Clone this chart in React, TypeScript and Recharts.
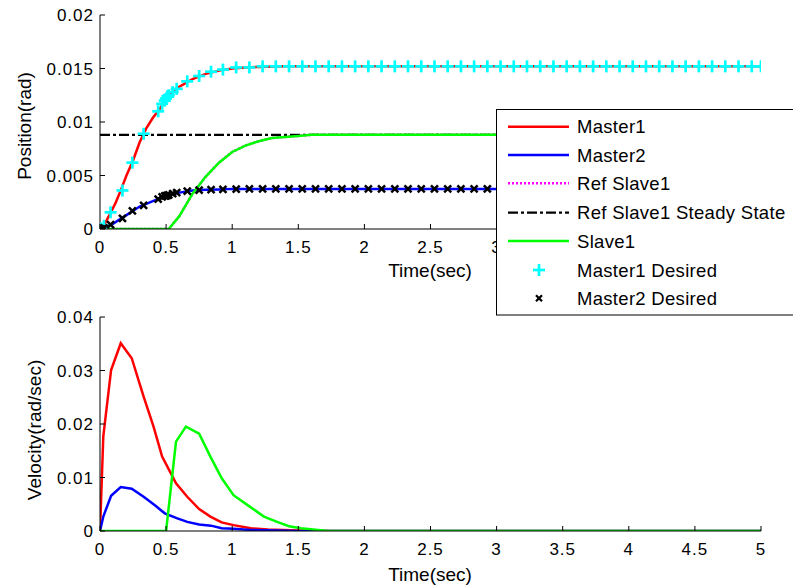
import React from 'react';
import { ComposedChart, Line, XAxis, YAxis } from 'recharts';

const FONT = '"Liberation Sans", Arial, Helvetica, sans-serif';

// ---------- ticks ----------
const timeTicks = [0, 0.5, 1, 1.5, 2, 2.5, 3, 3.5, 4, 4.5, 5];
const timeTickLabels = ['0', '0.5', '1', '1.5', '2', '2.5', '3', '3.5', '4', '4.5', '5'];
const posTicks = [0, 0.005, 0.01, 0.015, 0.02];
const posTickLabels = ['0', '0.005', '0.01', '0.015', '0.02'];
const velTicks = [0, 0.01, 0.02, 0.03, 0.04];
const velTickLabels = ['0', '0.01', '0.02', '0.03', '0.04'];

// ---------- position (top plot) ----------
const master1PosTime = [0, 0.02, 0.05, 0.08, 0.12, 0.16, 0.2, 0.25, 0.3, 0.35, 0.4, 0.45, 0.5, 0.55, 0.6, 0.7, 0.8, 0.9, 1.0, 1.1, 1.2, 1.4, 5];
const master1PosValue = [0, 0.0002, 0.0008, 0.0015, 0.0025, 0.0037, 0.005, 0.0064, 0.0081, 0.0094, 0.0104, 0.0112, 0.0121, 0.0128, 0.0133, 0.014, 0.0145, 0.0148, 0.015, 0.0151, 0.01515, 0.0152, 0.0152];

const master2PosTime = [0, 0.05, 0.1, 0.2, 0.3, 0.4, 0.5, 0.6, 0.7, 0.8, 0.9, 1.0, 5];
const master2PosValue = [0, 0.0002, 0.0005, 0.0013, 0.0021, 0.0026, 0.0031, 0.0034, 0.0036, 0.00367, 0.0037, 0.00375, 0.00375];

const slave1PosTime = [0, 0.52, 0.6, 0.7, 0.8, 0.9, 1.0, 1.1, 1.2, 1.3, 1.4, 1.5, 1.6, 5];
const slave1PosValue = [0, 0, 0.0012, 0.0033, 0.0049, 0.0062, 0.0072, 0.0078, 0.0082, 0.0085, 0.0086, 0.0087, 0.0088, 0.0088];

const refSlave1Time = [0, 0.52, 0.6, 0.7, 0.8, 0.9, 1.0, 1.1, 1.2, 1.3, 1.4, 1.5, 1.6, 5];
const refSlave1Value = [0, 0, 0.0012, 0.0033, 0.0049, 0.0062, 0.0072, 0.0078, 0.0082, 0.0085, 0.0086, 0.0087, 0.0088, 0.0088];

const steadyTime = [0, 5];
const steadyValue = [0.0088, 0.0088];

const desiredTime = [0, 0.01, 0.03, 0.08, 0.17, 0.245, 0.33, 0.44, 0.47, 0.49, 0.5, 0.51, 0.52, 0.55, 0.58, 0.66, 0.75, 0.84, 0.93, 1.03,
  1.13, 1.23, 1.33, 1.43, 1.53, 1.63, 1.73, 1.83, 1.93, 2.03, 2.13, 2.23, 2.33, 2.43, 2.53, 2.63, 2.73, 2.83, 2.93, 3.03,
  3.13, 3.23, 3.33, 3.43, 3.53, 3.63, 3.73, 3.83, 3.93, 4.03, 4.13, 4.23, 4.33, 4.43, 4.53, 4.63, 4.73, 4.83, 4.93, 5.0];
const master1DesiredValue = [0, 0.00005, 0.0003, 0.00156, 0.0036, 0.0062, 0.0089, 0.011, 0.0117, 0.012, 0.0122, 0.0124, 0.0125, 0.0128, 0.0131, 0.0138, 0.0143, 0.0147, 0.0149, 0.0151,
  0.0151, 0.0152, 0.0152, 0.0152, 0.0152, 0.0152, 0.0152, 0.0152, 0.0152, 0.0152, 0.0152, 0.0152, 0.0152, 0.0152, 0.0152, 0.0152, 0.0152, 0.0152, 0.0152, 0.0152,
  0.0152, 0.0152, 0.0152, 0.0152, 0.0152, 0.0152, 0.0152, 0.0152, 0.0152, 0.0152, 0.0152, 0.0152, 0.0152, 0.0152, 0.0152, 0.0152, 0.0152, 0.0152, 0.0152, 0.0152];
const master2DesiredValue = [0, 0.00002, 0.0001, 0.0004, 0.001, 0.0017, 0.0022, 0.0028, 0.003, 0.0031, 0.0031, 0.00315, 0.0032, 0.0033, 0.0034, 0.00355, 0.00363, 0.00368, 0.0037, 0.00373,
  0.00375, 0.00375, 0.00375, 0.00375, 0.00375, 0.00375, 0.00375, 0.00375, 0.00375, 0.00375, 0.00375, 0.00375, 0.00375, 0.00375, 0.00375, 0.00375, 0.00375, 0.00375, 0.00375, 0.00375,
  0.00375, 0.00375, 0.00375, 0.00375, 0.00375, 0.00375, 0.00375, 0.00375, 0.00375, 0.00375, 0.00375, 0.00375, 0.00375, 0.00375, 0.00375, 0.00375, 0.00375, 0.00375, 0.00375, 0.00375];

// ---------- velocity (bottom plot) ----------
const master1VelTime = [0, 0.025, 0.084, 0.157, 0.24, 0.33, 0.405, 0.47, 0.575, 0.66, 0.75, 0.835, 0.92, 1.01, 1.14, 1.27, 1.5, 1.75, 5];
const master1VelValue = [0, 0.0177, 0.0301, 0.0351, 0.0323, 0.0251, 0.0195, 0.0139, 0.0089, 0.0064, 0.0041, 0.0027, 0.0016, 0.0011, 0.0005, 0.0003, 0.0001, 0, 0];

const master2VelTime = [0, 0.025, 0.084, 0.157, 0.24, 0.33, 0.42, 0.49, 0.58, 0.66, 0.75, 0.84, 0.92, 1.01, 1.14, 1.5, 5];
const master2VelValue = [0, 0.0027, 0.0066, 0.0082, 0.0079, 0.0064, 0.0047, 0.0033, 0.0024, 0.0017, 0.0012, 0.001, 0.0005, 0.0004, 0.0002, 0, 0];

const slave1VelTime = [0, 0.5, 0.575, 0.65, 0.75, 0.835, 0.92, 1.01, 1.13, 1.24, 1.34, 1.43, 1.52, 1.65, 1.73, 5];
const slave1VelValue = [0, 0, 0.0167, 0.0195, 0.0182, 0.0139, 0.0099, 0.0067, 0.0046, 0.0027, 0.0017, 0.0009, 0.0005, 0.0002, 0, 0];

// ---------- legend ----------
const legendLabels = ['Master1', 'Master2', 'Ref Slave1', 'Ref Slave1 Steady State', 'Slave1', 'Master1 Desired', 'Master2 Desired'];
const legendRowY = [126.7, 155, 183.3, 212.7, 241, 270, 298.3];

const zip = (t: number[], v: number[]) => t.map((x, i) => ({ t: x, v: v[i] }));

const tickText = { fontFamily: FONT, fontSize: 17, letterSpacing: 1, fill: '#000' } as const;
const LW = 2.5;

const labelOf = (ticks: number[], labels: string[], v: number) => {
  const i = ticks.findIndex((x) => Math.abs(x - v) < 1e-9);
  return i >= 0 ? labels[i] : String(v);
};

// bottom axis tick; labels beyond maxLabel are hidden (covered by the legend in the original)
const makeBottomTick = (maxLabel: number) => (props: any) => {
  const { x, y, payload } = props;
  return (
    <g>
      <line x1={x} x2={x} y1={y} y2={y - 5} stroke="#000" strokeWidth={1} />
      {payload.value <= maxLabel + 1e-9 ? (
        <text x={x} y={y + 24} textAnchor="middle" {...tickText}>{labelOf(timeTicks, timeTickLabels, payload.value)}</text>
      ) : null}
    </g>
  );
};
const TopTick = (props: any) => {
  const { x, y } = props;
  return <line x1={x} x2={x} y1={y} y2={y + 5} stroke="#000" strokeWidth={1} />;
};
const makeLeftTick = (ticks: number[], labels: string[]) => (props: any) => {
  const { x, y, payload } = props;
  return (
    <g>
      <line x1={x} x2={x + 5} y1={y} y2={y} stroke="#000" strokeWidth={1} />
      <text x={x - 6} y={y + 6} textAnchor="end" {...tickText}>{labelOf(ticks, labels, payload.value)}</text>
    </g>
  );
};
const RightTick = (props: any) => {
  const { x, y } = props;
  return <line x1={x} x2={x - 5} y1={y} y2={y} stroke="#000" strokeWidth={1} />;
};

const PlusDot = (props: any) => {
  const { cx, cy, index } = props;
  if (cx == null || cy == null) return <g key={index} />;
  return (
    <g key={index}>
      <line x1={cx - 6} x2={cx + 6} y1={cy} y2={cy} stroke="#00ffff" strokeWidth={2.7} />
      <line x1={cx} x2={cx} y1={cy - 6} y2={cy + 6} stroke="#00ffff" strokeWidth={2.7} />
    </g>
  );
};
const XDot = (props: any) => {
  const { cx, cy, index } = props;
  if (cx == null || cy == null) return <g key={index} />;
  return (
    <g key={index}>
      <line x1={cx - 3.5} x2={cx + 3.5} y1={cy - 3.5} y2={cy + 3.5} stroke="#000" strokeWidth={2.5} />
      <line x1={cx - 3.5} x2={cx + 3.5} y1={cy + 3.5} y2={cy - 3.5} stroke="#000" strokeWidth={2.5} />
    </g>
  );
};

const PosLeftTick = makeLeftTick(posTicks, posTickLabels);
const VelLeftTick = makeLeftTick(velTicks, velTickLabels);
const TopPlotBottomTick = makeBottomTick(3);
const BottomPlotBottomTick = makeBottomTick(5);

const axisLine = { stroke: '#000', strokeWidth: 1 };

export default function App() {
  return (
    <div style={{ position: 'absolute', left: 0, top: 0, width: 793, height: 588, background: '#fff', overflow: 'hidden' }}>
      <div style={{ position: 'absolute', left: 0, top: 0 }}>
        <ComposedChart width={793} height={300} margin={{ top: 15, right: 32, bottom: 31, left: 40 }}>
          <XAxis xAxisId="b" dataKey="t" type="number" domain={[0, 5]} ticks={timeTicks} interval={0} allowDataOverflow
            orientation="bottom" height={40} tickSize={0} tickMargin={0} tick={TopPlotBottomTick} axisLine={axisLine} />
          <XAxis xAxisId="t" dataKey="t" type="number" domain={[0, 5]} ticks={timeTicks} interval={0} allowDataOverflow
            orientation="top" height={0} tickSize={0} tickMargin={0} tick={TopTick} axisLine={axisLine} />
          <YAxis yAxisId="l" type="number" domain={[0, 0.02]} ticks={posTicks} interval={0} allowDataOverflow
            width={60} tickSize={0} tickMargin={0} tick={PosLeftTick} axisLine={axisLine} />
          <YAxis yAxisId="r" orientation="right" type="number" domain={[0, 0.02]} ticks={posTicks} interval={0} allowDataOverflow
            width={0} tickSize={0} tickMargin={0} tick={RightTick} axisLine={axisLine} />
          <Line xAxisId="b" yAxisId="l" data={zip(master1PosTime, master1PosValue)} dataKey="v" stroke="#ff0000" strokeWidth={LW} dot={false} isAnimationActive={false} type="linear" />
          <Line xAxisId="b" yAxisId="l" data={zip(master2PosTime, master2PosValue)} dataKey="v" stroke="#0000ff" strokeWidth={LW} dot={false} isAnimationActive={false} type="linear" />
          <Line xAxisId="b" yAxisId="l" data={zip(refSlave1Time, refSlave1Value)} dataKey="v" stroke="#ff00ff" strokeWidth={LW} strokeDasharray="2 2" dot={false} isAnimationActive={false} type="linear" />
          <Line xAxisId="b" yAxisId="l" data={zip(steadyTime, steadyValue)} dataKey="v" stroke="#000" strokeWidth={2.3} strokeDasharray="10 3 3 3" dot={false} isAnimationActive={false} type="linear" />
          <Line xAxisId="b" yAxisId="l" data={zip(slave1PosTime, slave1PosValue)} dataKey="v" stroke="#00ff00" strokeWidth={LW} dot={false} isAnimationActive={false} type="linear" />
          <Line xAxisId="b" yAxisId="l" data={zip(desiredTime, master1DesiredValue)} dataKey="v" stroke="none" dot={PlusDot} isAnimationActive={false} type="linear" />
          <Line xAxisId="b" yAxisId="l" data={zip(desiredTime, master2DesiredValue)} dataKey="v" stroke="none" dot={XDot} isAnimationActive={false} type="linear" />
        </ComposedChart>
      </div>
      <div style={{ position: 'absolute', left: 0, top: 300 }}>
        <ComposedChart width={793} height={288} margin={{ top: 17, right: 32, bottom: 17, left: 40 }}>
          <XAxis xAxisId="b" dataKey="t" type="number" domain={[0, 5]} ticks={timeTicks} interval={0} allowDataOverflow
            orientation="bottom" height={40} tickSize={0} tickMargin={0} tick={BottomPlotBottomTick} axisLine={axisLine} />
          <XAxis xAxisId="t" dataKey="t" type="number" domain={[0, 5]} ticks={timeTicks} interval={0} allowDataOverflow
            orientation="top" height={0} tickSize={0} tickMargin={0} tick={TopTick} axisLine={axisLine} />
          <YAxis yAxisId="l" type="number" domain={[0, 0.04]} ticks={velTicks} interval={0} allowDataOverflow
            width={60} tickSize={0} tickMargin={0} tick={VelLeftTick} axisLine={axisLine} />
          <YAxis yAxisId="r" orientation="right" type="number" domain={[0, 0.04]} ticks={velTicks} interval={0} allowDataOverflow
            width={0} tickSize={0} tickMargin={0} tick={RightTick} axisLine={axisLine} />
          <Line xAxisId="b" yAxisId="l" data={zip(master1VelTime, master1VelValue)} dataKey="v" stroke="#ff0000" strokeWidth={LW} dot={false} isAnimationActive={false} type="linear" />
          <Line xAxisId="b" yAxisId="l" data={zip(master2VelTime, master2VelValue)} dataKey="v" stroke="#0000ff" strokeWidth={LW} dot={false} isAnimationActive={false} type="linear" />
          <Line xAxisId="b" yAxisId="l" data={zip(slave1VelTime, slave1VelValue)} dataKey="v" stroke="#00ff00" strokeWidth={LW} dot={false} isAnimationActive={false} type="linear" />
        </ComposedChart>
      </div>
      <svg width={793} height={588} style={{ position: 'absolute', left: 0, top: 0, pointerEvents: 'none' }}>
        <g fontFamily={FONT} fontSize={19} fill="#000">
          <text x={430} y={277} textAnchor="middle">Time(sec)</text>
          <text x={430} y={581} textAnchor="middle">Time(sec)</text>
          <text transform="translate(31,126) rotate(-90)" textAnchor="middle">Position(rad)</text>
          <text transform="translate(41,430) rotate(-90)" textAnchor="middle">Velocity(rad/sec)</text>
        </g>
        <rect x={496.5} y={109.5} width={330} height={205.5} fill="#fff" stroke="#000" strokeWidth={1} />
        <g>
          <line x1={508} x2={569} y1={legendRowY[0]} y2={legendRowY[0]} stroke="#ff0000" strokeWidth={LW} />
          <line x1={508} x2={569} y1={legendRowY[1]} y2={legendRowY[1]} stroke="#0000ff" strokeWidth={LW} />
          <line x1={508} x2={569} y1={legendRowY[2]} y2={legendRowY[2]} stroke="#ff00ff" strokeWidth={LW} strokeDasharray="2 2" />
          <line x1={508} x2={569} y1={legendRowY[3]} y2={legendRowY[3]} stroke="#000" strokeWidth={2.3} strokeDasharray="10 3 3 3" />
          <line x1={508} x2={569} y1={legendRowY[4]} y2={legendRowY[4]} stroke="#00ff00" strokeWidth={LW} />
          <line x1={533} x2={545} y1={legendRowY[5]} y2={legendRowY[5]} stroke="#00ffff" strokeWidth={2.7} />
          <line x1={539} x2={539} y1={legendRowY[5] - 6} y2={legendRowY[5] + 6} stroke="#00ffff" strokeWidth={2.7} />
          <line x1={536} x2={542} y1={legendRowY[6] - 3} y2={legendRowY[6] + 3} stroke="#000" strokeWidth={2.3} />
          <line x1={536} x2={542} y1={legendRowY[6] + 3} y2={legendRowY[6] - 3} stroke="#000" strokeWidth={2.3} />
        </g>
        <g fontFamily={FONT} fontSize={18.5} letterSpacing={0.3} fill="#000">
          {legendLabels.map((s, i) => (
            <text key={s} x={577} y={legendRowY[i] + 6.5}>{s}</text>
          ))}
        </g>
      </svg>
    </div>
  );
}
